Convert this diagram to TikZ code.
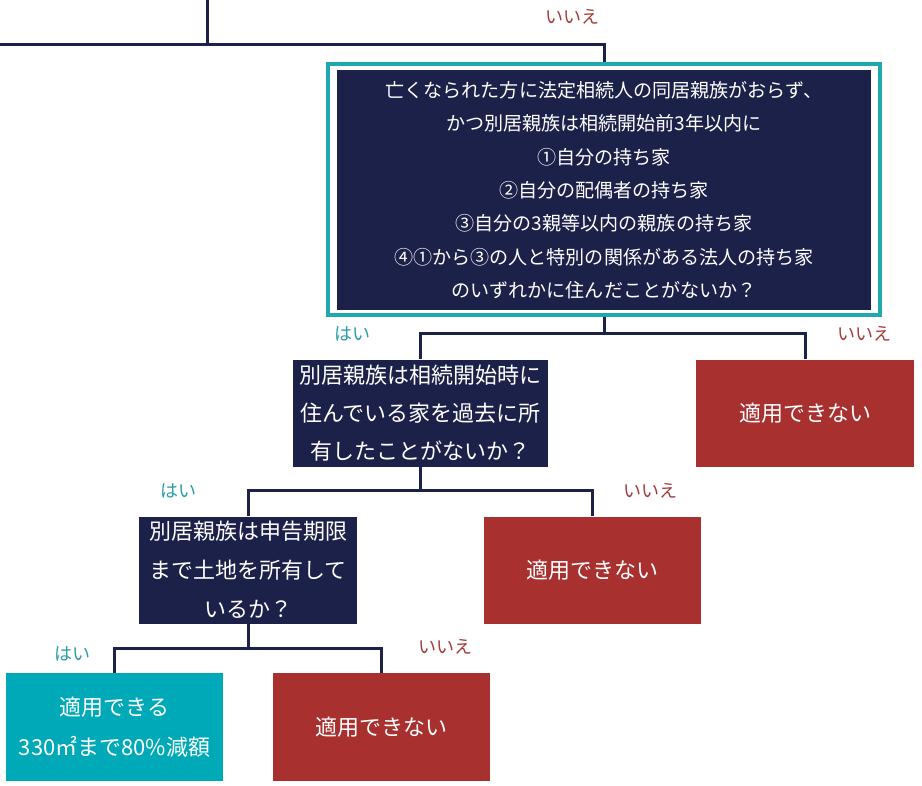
\documentclass[tikz,border=0pt]{standalone}
\usepackage{fontspec}
\setmainfont{Noto Sans CJK JP}
\definecolor{navy}{HTML}{1C2149}
\definecolor{redbox}{HTML}{A8302F}
\definecolor{tealbox}{HTML}{00A9B7}
\definecolor{tealframe}{HTML}{1FA8B0}
\definecolor{yeslab}{HTML}{2A9FAA}
\definecolor{nolab}{HTML}{A53A3A}
\begin{document}
\begin{tikzpicture}[x=0.75pt,y=-0.75pt,
  conn/.style={draw=navy, line width=2.25pt},
  qbox/.style={fill=navy, text=white, align=center, inner sep=0pt},
  nobox/.style={fill=redbox, text=white, align=center, inner sep=0pt, font=\fontsize{16.5}{28.5}\selectfont},
  yesbox/.style={fill=tealbox, text=white, align=center, inner sep=0pt, font=\fontsize{16.5}{30}\selectfont},
  yeslbl/.style={text=yeslab, inner sep=0pt, font=\fontsize{13.5}{15}\selectfont},
  nolbl/.style={text=nolab, inner sep=0pt, font=\fontsize{13.5}{15}\selectfont}]
\useasboundingbox[fill=white] (0,0) rectangle (922,786);

% top question (framed)
\node[draw=tealframe, line width=3pt, minimum width=414pt, minimum height=188.25pt, inner sep=0pt] (q1frame) at (604,189.5) {};
\node[qbox, minimum width=400.5pt, minimum height=180pt, font=\fontsize{14.3}{25}\selectfont] (q1) at (604,190)
  {亡くなられた方に法定相続人の同居親族がおらず、\\かつ別居親族は相続開始前3年以内に\\①自分の持ち家\\②自分の配偶者の持ち家\\③自分の3親等以内の親族の持ち家\\④①から③の人と特別の関係がある法人の持ち家\\のいずれかに住んだことがないか？};

% second level
\node[qbox, minimum width=191.25pt, minimum height=80.25pt, font=\fontsize{16.5}{28.5}\selectfont] (q2) at (420.5,413)
  {別居親族は相続開始時に\\住んでいる家を過去に所\\有したことがないか？};
\node[nobox, minimum width=163.5pt, minimum height=80.25pt] (n1) at (805,413) {適用できない};

% third level
\node[qbox, minimum width=163.5pt, minimum height=80.25pt, font=\fontsize{16.5}{29.25}\selectfont] (q3) at (248,570)
  {別居親族は申告期限\\まで土地を所有して\\いるか？};
\node[nobox, minimum width=162.75pt, minimum height=80.25pt] (n2) at (592.5,570) {適用できない};

% fourth level
\node[yesbox, minimum width=162.75pt, minimum height=81pt] (y1) at (114.5,727) {適用できる\\330㎡まで80\%減額};
\node[nobox, minimum width=162.75pt, minimum height=81pt] (n3) at (381.5,727) {適用できない};

% junctions
\coordinate (tl) at (207,0);
\coordinate (jt) at (207,44);
\coordinate (lft) at (0,44);
\coordinate (j1) at (604,333);
\coordinate (j2) at (420.5,490);
\coordinate (j3) at (248,648);

% connectors
\draw[conn] (tl) -- (jt);
\draw[conn] (lft) -| (q1frame.north);
\draw[conn] (q1frame.south) -- (j1);
\draw[conn] (q2.north) |- (j1) -| (n1.north);
\draw[conn] (q2.south) -- (j2);
\draw[conn] (q3.north) |- (j2) -| (n2.north);
\draw[conn] (q3.south) -- (j3);
\draw[conn] (y1.north) |- (j3) -| (n3.north);

% labels
\node[nolbl] (l0) at (572,17) {いいえ};
\node[yeslbl] (l1) at (352,334) {はい};
\node[nolbl] (l2) at (864,334) {いいえ};
\node[yeslbl] (l3) at (178,491) {はい};
\node[nolbl] (l4) at (650,491) {いいえ};
\node[yeslbl] (l5) at (73,654) {はい};
\node[nolbl] (l6) at (445,647) {いいえ};
\end{tikzpicture}
\end{document}
